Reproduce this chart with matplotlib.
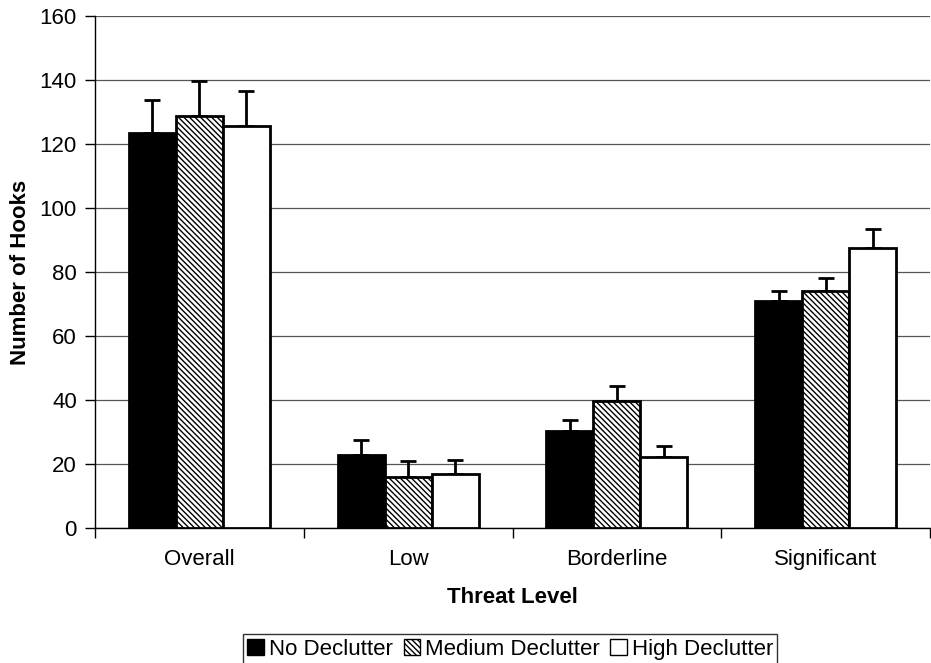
import numpy as np
import matplotlib.pyplot as plt
from matplotlib.patches import Patch

plt.rcParams['font.family'] = ['Liberation Sans', 'DejaVu Sans']
plt.rcParams['hatch.linewidth'] = 1.0

categories = ['Overall', 'Low', 'Borderline', 'Significant']
series_names = ['No Declutter', 'Medium Declutter', 'High Declutter']

no_declutter = [123.4, 22.8, 30.3, 70.9]
medium_declutter = [128.7, 15.9, 39.7, 74.0]
high_declutter = [125.6, 16.9, 22.2, 87.5]

no_err = [10.3, 4.7, 3.4, 3.1]
medium_err = [11.0, 5.0, 4.7, 4.0]
high_err = [11.0, 4.3, 3.4, 5.9]

fig = plt.figure(figsize=(9.31, 6.63), dpi=100)
ax = fig.add_axes([0.102, 0.2036, 0.897, 0.7723])

index = np.arange(len(categories))
bar_width = 0.225
styles = [
    dict(color='black', hatch=None),
    dict(color='white', hatch='\\\\\\\\\\\\'),
    dict(color='white', hatch=None),
]
values = [no_declutter, medium_declutter, high_declutter]
errors = [no_err, medium_err, high_err]

for i, (vals, errs, st) in enumerate(zip(values, errors, styles)):
    pos = index + (i - 1) * bar_width
    ax.bar(pos, vals, bar_width, color=st['color'], edgecolor='black',
           linewidth=2, hatch=st['hatch'], zorder=3)
    ax.errorbar(pos, vals, yerr=[np.zeros(len(errs)), errs], fmt='none',
                ecolor='black', elinewidth=2, capsize=6, capthick=2, zorder=2)

ax.set_xlim(-0.5, 3.5)
ax.set_ylim(0, 160)
ax.set_yticks(np.arange(0, 161, 20))
ax.set_xticks(index)
ax.set_xticklabels(categories)
ax.set_xticks(np.arange(-0.5, 3.6, 1), minor=True)
ax.tick_params(axis='x', which='major', length=0, pad=15, labelsize=16)
ax.tick_params(axis='x', which='minor', length=7, width=1, direction='out')
ax.tick_params(axis='y', length=7, width=1, direction='out', labelsize=16, pad=6)

ax.grid(True, axis='y', color='#555555', linewidth=0.9, zorder=0)
ax.spines['right'].set_visible(False)
ax.spines['top'].set_visible(False)
ax.spines['left'].set_linewidth(1)
ax.spines['bottom'].set_linewidth(1)

ax.set_xlabel('Threat Level', fontsize=16, fontweight='bold', labelpad=12)
ax.set_ylabel('Number of Hooks', fontsize=16, fontweight='bold', labelpad=6)

handles = [Patch(facecolor=st['color'], edgecolor='black', hatch=st['hatch'],
                 linewidth=1, label=name) for st, name in zip(styles, series_names)]
leg = fig.legend(handles=handles, loc='center', bbox_to_anchor=(0.548, 0.021),
                 ncol=3, fontsize=16, frameon=True, fancybox=False,
                 handlelength=0.75, handleheight=0.75, handletextpad=0.2,
                 columnspacing=0.5, borderpad=0.2, borderaxespad=0)
leg.get_frame().set_edgecolor('black')
leg.get_frame().set_linewidth(1)

fig.savefig('out.png', dpi=100, facecolor='white')
